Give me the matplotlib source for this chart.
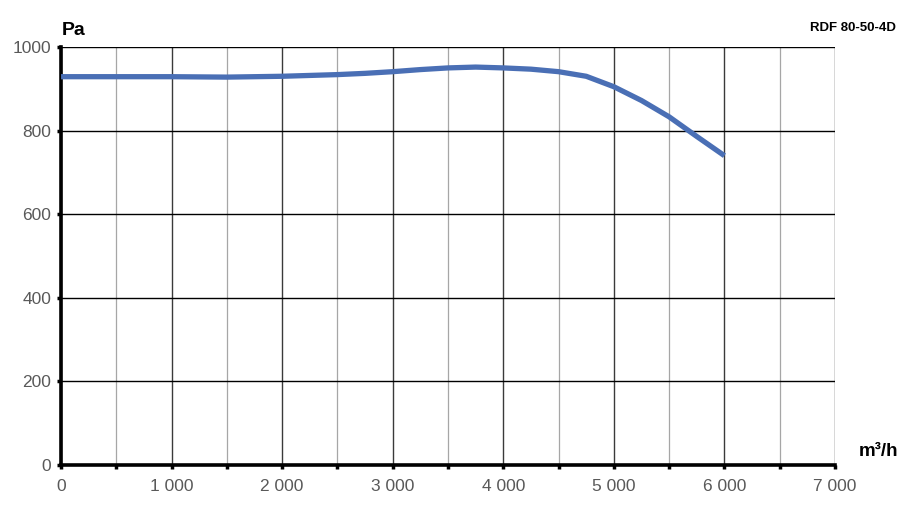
import matplotlib.pyplot as plt
from matplotlib.ticker import MultipleLocator, FuncFormatter

plt.rcParams['font.family'] = ['Liberation Sans', 'DejaVu Sans']

# Fan curve: air flow (m3/h) vs pressure (Pa)
flow = [0, 500, 1000, 1500, 2000, 2500, 2750, 3000, 3250, 3500, 3750, 4000,
        4250, 4500, 4750, 5000, 5250, 5500, 5750, 6000]
pressure = [929, 929, 929, 928, 930, 934, 937, 941, 946, 950, 952, 950,
            947, 941, 930, 905, 872, 833, 786, 740]

fig = plt.figure(figsize=(9.07, 5.05), dpi=100)
ax = fig.add_axes([0.0673, 0.0792, 0.8533, 0.8277])

ax.set_xlim(0, 7000)
ax.set_ylim(0, 1000)

# grid
ax.xaxis.set_major_locator(MultipleLocator(1000))
ax.xaxis.set_minor_locator(MultipleLocator(500))
ax.yaxis.set_major_locator(MultipleLocator(200))
ax.grid(True, which='major', axis='x', color='#3a3a3a', lw=1.0)
ax.grid(True, which='minor', axis='x', color='#a6a6a6', lw=0.9)
ax.grid(True, which='major', axis='y', color='black', lw=1.0)
ax.set_axisbelow(True)

ax.plot(flow, pressure, color='#4a6fb5', lw=3.8, solid_capstyle='butt', solid_joinstyle='round', zorder=3)

for s in ['top', 'right']:
    ax.spines[s].set_visible(False)
ax.spines['left'].set_linewidth(2.6)
ax.spines['bottom'].set_linewidth(2.6)

ax.xaxis.set_major_formatter(FuncFormatter(lambda v, p: f'{int(v):,}'.replace(',', ' ')))
ax.yaxis.set_major_formatter(FuncFormatter(lambda v, p: f'{int(v)}'))
ax.tick_params(axis='both', which='both', direction='out', length=3, width=2.5,
               labelsize=12.5, labelcolor='#595959', color='black')
ax.tick_params(axis='x', which='major', pad=7)
ax.tick_params(axis='y', pad=4)

fig.text(0.068, 0.94, 'Pa', fontsize=14, fontweight='bold', ha='left', va='center')
fig.text(0.99, 0.105, 'm³/h', fontsize=13.5, fontweight='bold', ha='right', va='center')
fig.text(0.988, 0.945, 'RDF 80-50-4D', fontsize=9.5, fontweight='bold', ha='right', va='center')

fig.savefig('out.png', dpi=100)
